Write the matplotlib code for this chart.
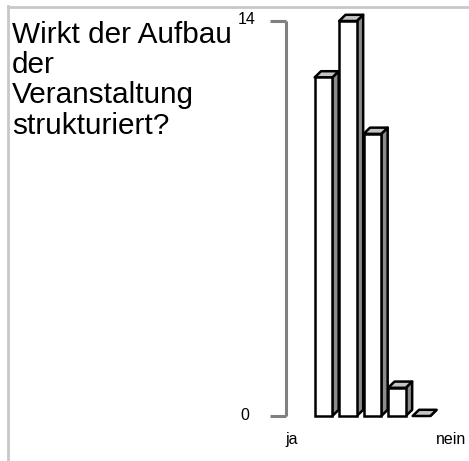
import matplotlib
matplotlib.use("Agg")
import matplotlib.pyplot as plt
from matplotlib.patches import Polygon
from matplotlib.lines import Line2D

plt.rcParams['font.family'] = ['Liberation Sans', 'DejaVu Sans']

title = "Wirkt der Aufbau\nder\nVeranstaltung\nstrukturiert?"
values = [12, 14, 10, 1, 0]
ymax_label = "14"
ymin_label = "0"
left_label = "ja"
right_label = "nein"

W, H = 469, 461
DPI = 100
fig = plt.figure(figsize=(W / DPI, H / DPI), dpi=DPI)

def fx(px):
    return px / W

def fy(py):
    return 1 - py / H

# axes: x pixel 286..469, y pixel 416 (0) .. 21 (14)
ax = fig.add_axes([fx(286), fy(416), fx(469) - fx(286), fy(21) - fy(416)])
ax.set_xlim(-1.53, 5.94)
ax.set_ylim(0, 14)
ax.axis('off')

bw = 0.72
dx = 0.26
dy = 0.22
lw = 1.8
for i, v in enumerate(values):
    xl, xr = i - bw / 2, i + bw / 2
    side = Polygon([(xr, 0), (xr + dx, dy), (xr + dx, v + dy), (xr, v)], closed=True,
                   facecolor='#8c8c8c', edgecolor='black', lw=lw, clip_on=False,
                   joinstyle='round', zorder=2)
    top = Polygon([(xl, v), (xl + dx, v + dy), (xr + dx, v + dy), (xr, v)], closed=True,
                  facecolor='#c4c4c4', edgecolor='black', lw=lw, clip_on=False,
                  joinstyle='round', zorder=3)
    ax.add_patch(side)
    ax.add_patch(top)
    if v > 0:
        ax.bar(i, v, width=bw, color='white', edgecolor='black', linewidth=lw,
               clip_on=False, zorder=4)

# axis bracket
gray = '#808080'
ax.plot([-1.53, -1.53], [0, 14], color=gray, lw=2.2, clip_on=False, solid_capstyle='butt')
xt = (270 - 323.5) / 24.5
ax.plot([xt, -1.53], [14, 14], color=gray, lw=2.2, clip_on=False, solid_capstyle='butt')
ax.plot([xt, -1.53], [0, 0], color=gray, lw=2.2, clip_on=False, solid_capstyle='butt')

fs = 11.5
fig.text(fx(255.5), fy(20), ymax_label, ha='right', va='center', fontsize=fs)
fig.text(fx(249.5), fy(416), ymin_label, ha='right', va='center', fontsize=fs)
fig.text(fx(285), fy(439), left_label, ha='left', va='center', fontsize=fs)
fig.text(fx(466), fy(439), right_label, ha='right', va='center', fontsize=fs)

fig.text(fx(12), fy(21), title, ha='left', va='top', fontsize=21.4, linespacing=1.1)

# frame lines
fig.add_artist(Line2D([fx(8), fx(469)], [fy(7), fy(7)], color='#c8c8c8', lw=2))
fig.add_artist(Line2D([fx(8), fx(8)], [fy(6), fy(461)], color='#c8c8c8', lw=2))

fig.savefig("out.png", dpi=DPI)
